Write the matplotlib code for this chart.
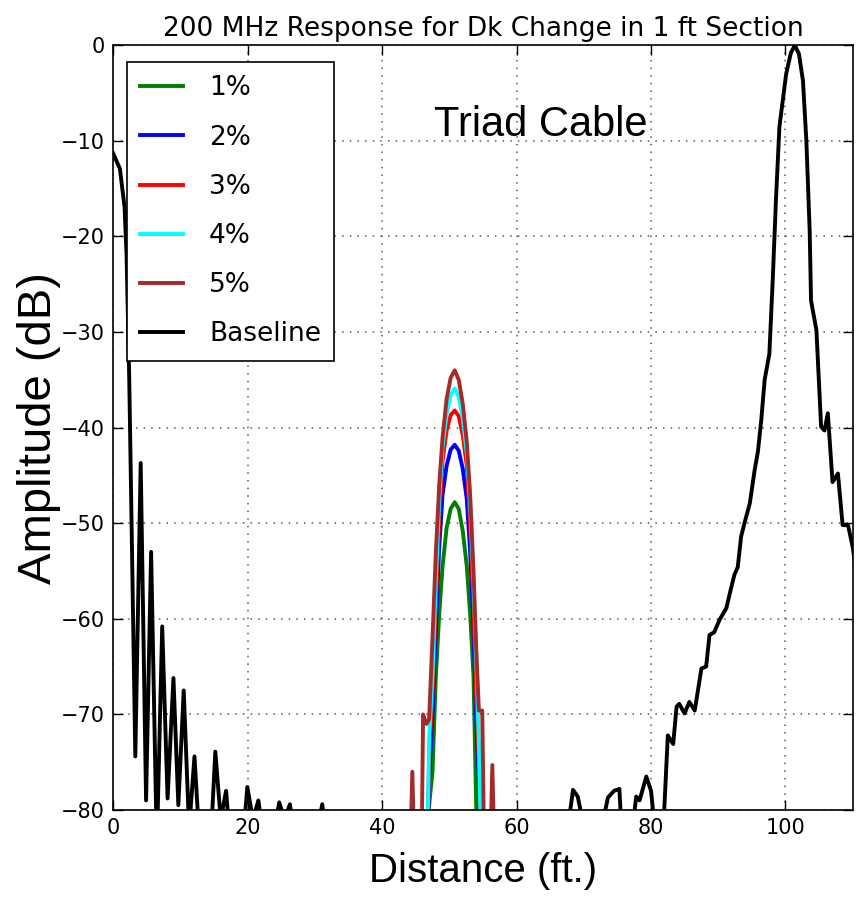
import numpy as np
import matplotlib
matplotlib.use("Agg")
import matplotlib.pyplot as plt

# baseline (no Dk change), values below -80 sit off the axis
base_x = [0.0, 1.0, 1.7, 2.0, 2.4, 3.3, 4.1, 4.9, 5.65, 6.5, 7.3, 8.1, 8.97, 9.7,
          10.5, 11.3, 12.1, 12.9, 14.4, 15.2, 16.0, 16.8, 17.6, 19.2, 19.96, 20.8,
          21.6, 22.4, 24.0, 24.7, 25.5, 26.3, 27.0, 30.4, 31.1, 31.8, 40.0, 60.0,
          67.8, 68.4, 69.1, 69.8, 72.9, 73.6, 74.5, 75.3, 75.6, 77.4, 77.8, 78.3,
          79.3, 80.0, 80.6, 81.9, 82.5, 83.3, 83.8, 84.2, 85.0, 85.7, 86.5, 87.5,
          88.2, 88.7, 89.4, 90.2, 91.2, 91.7, 92.4, 92.9, 93.4, 93.9, 94.7, 95.4,
          95.9, 96.4, 96.9, 97.6, 98.1, 98.6, 99.1, 100.1, 100.8, 101.4, 102.0,
          102.6, 103.1, 103.6, 103.8, 104.6, 105.3, 105.8, 106.3, 107.0, 107.8,
          108.5, 109.3, 110.0, 110.5]
base_y = [-11.3, -12.9, -16.9, -22.0, -35.0, -74.4, -43.7, -79.0, -53.0, -84.0,
          -60.8, -78.8, -66.2, -79.5, -67.5, -82.0, -74.4, -84.0, -85.0, -73.9,
          -81.0, -78.0, -85.0, -84.0, -77.6, -81.0, -79.0, -83.0, -82.0, -79.2,
          -81.0, -79.4, -83.0, -82.0, -79.4, -83.0, -90.0, -90.0,
          -81.0, -77.9, -78.6, -81.0, -81.0, -78.7, -78.0, -77.8, -82.0, -81.0,
          -78.6, -79.0, -76.5, -78.0, -82.0, -81.0, -72.2, -73.1, -69.2, -68.9,
          -69.9, -68.7, -69.6, -65.2, -65.0, -61.7, -61.4, -60.1, -58.9, -57.4,
          -55.4, -54.6, -51.4, -50.0, -47.9, -44.5, -42.5, -39.2, -35.0, -32.3,
          -24.6, -15.9, -8.5, -3.0, -0.8, 0.0, -0.9, -3.7, -9.9, -19.4, -26.7,
          -29.8, -39.9, -40.3, -38.5, -45.7, -44.8, -50.2, -50.2, -52.5, -55.0]

# responses around the 1 ft section with changed Dk
bump_x = [44.0, 44.5, 45.0, 45.8, 46.1, 46.6, 47.0, 47.5, 48.0, 48.5, 49.0, 49.6,
          50.2, 50.8, 51.4, 52.0, 52.6, 53.1, 53.6, 54.0, 54.4, 54.9, 55.3, 55.9,
          56.4, 56.9]
pct1 = [-90, -90, -90, -90, -90, -90, -79.5, -76.0, -66.0, -59.5, -54.5, -50.5,
        -48.5, -47.8, -48.5, -50.8, -54.5, -59.5, -66.0, -79.5, -90, -90, -90, -90,
        -90, -90]
pct2 = [-90, -90, -90, -90, -90, -90, -76.5, -70.0, -61.0, -52.5, -47.0, -44.0,
        -42.3, -41.8, -42.4, -44.3, -47.5, -53.0, -61.0, -70.0, -77.0, -90, -90,
        -90, -90, -90]
pct3 = [-90, -90, -90, -90, -90, -90, -74.5, -68.0, -58.5, -49.5, -43.5, -40.3,
        -38.7, -38.2, -38.8, -40.8, -44.0, -50.0, -58.5, -68.0, -75.0, -90, -90,
        -90, -90, -90]
pct4 = [-90, -90, -90, -90, -90, -90, -72.5, -66.0, -56.0, -47.5, -42.0, -38.6,
        -36.6, -35.9, -36.8, -39.0, -42.7, -48.0, -56.0, -64.0, -73.0, -90, -90,
        -90, -90, -90]
pct5 = [-90, -76.0, -90, -90, -70.0, -71.0, -70.5, -62.0, -53.0, -46.0, -41.0,
        -37.0, -34.8, -34.0, -35.0, -37.5, -41.5, -47.0, -55.0, -63.0, -69.6,
        -69.6, -90, -90, -75.3, -90]

series = [("1%", pct1, "green"), ("2%", pct2, "blue"), ("3%", pct3, "red"),
          ("4%", pct4, "cyan"), ("5%", pct5, "brown")]

fig = plt.figure(figsize=(8.57, 9.06), dpi=100)
ax = fig.add_axes([0.132, 0.106, 0.863, 0.844])

for lab, vals, col in series:
    ax.plot(bump_x, vals, color=col, lw=2.8, label=lab)
ax.plot(base_x, base_y, color="black", lw=2.8, label="Baseline")

ax.set_xlim(0, 110)
ax.set_ylim(-80, 0)
ax.set_xticks(range(0, 101, 20))
ax.set_yticks(range(-80, 1, 10))
ax.tick_params(direction="in", top=True, right=True, length=7, width=1,
               labelsize=15, pad=6)
ax.grid(True, color="0.35", linestyle=(0, (1, 4)), lw=1.1)
for s in ax.spines.values():
    s.set_linewidth(1.2)

ax.set_title("200 MHz Response for Dk Change in 1 ft Section", fontsize=19, pad=7)
ax.set_xlabel("Distance (ft.)", fontsize=29, family="Liberation Sans", labelpad=10)
ax.set_ylabel("Amplitude (dB)", fontsize=34, family="Liberation Sans", labelpad=0)
ax.text(63.6, -8.3, "Triad Cable", fontsize=30, family="Liberation Sans",
        ha="center", va="center")

leg = ax.legend(loc="upper left", fontsize=19, handlelength=1.6, labelspacing=0.88,
                fancybox=False, framealpha=1, edgecolor="black",
                bbox_to_anchor=(0.019, 0.978), borderaxespad=0, handletextpad=1.0,
                borderpad=0.5)
leg.get_frame().set_linewidth(1.2)

fig.savefig("out.png", dpi=100)
